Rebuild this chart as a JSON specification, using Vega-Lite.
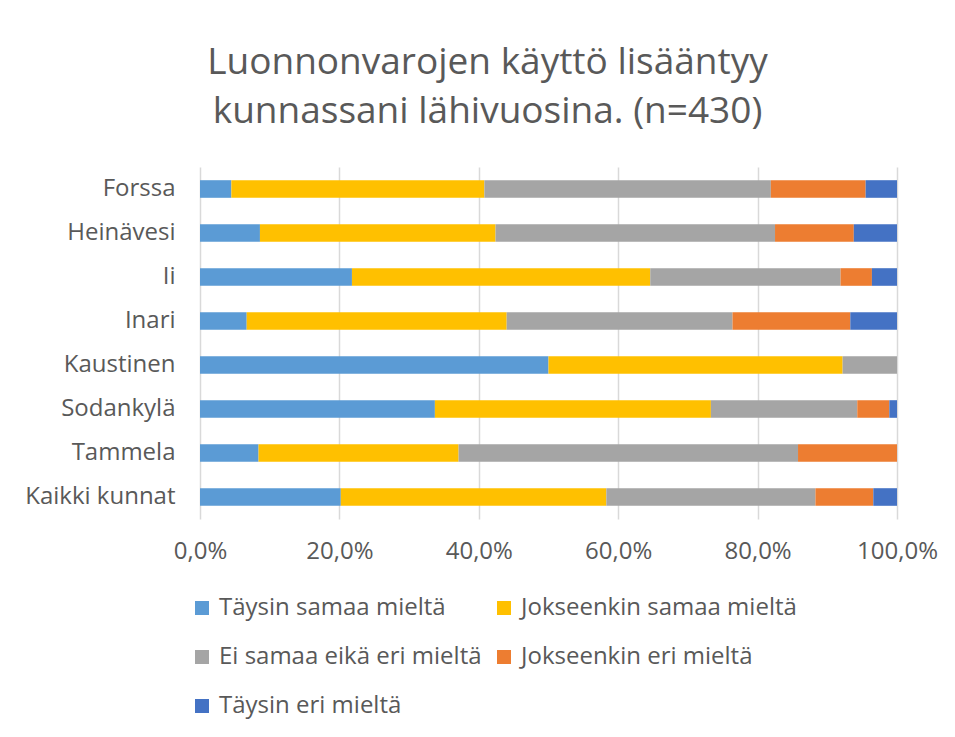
{
  "$schema": "https://vega.github.io/schema/vega-lite/v6.json",
  "width": 697,
  "height": 352,
  "autosize": "none",
  "padding": {"left": 200, "top": 167, "right": 58, "bottom": 218},
  "background": "white",
  "title": {
    "text": ["Luonnonvarojen käyttö lisääntyy", "kunnassani lähivuosina. (n=430)"],
    "font": "Open Sans",
    "fontSize": 37,
    "fontWeight": "normal",
    "color": "#595959",
    "lineHeight": 49,
    "anchor": "middle",
    "dx": -61,
    "offset": 36
  },
  "data": {
    "values": [
      {"kunta": "Forssa", "vastaus": "Täysin samaa mieltä", "o": 1, "arvo": 4.5},
      {"kunta": "Forssa", "vastaus": "Jokseenkin samaa mieltä", "o": 2, "arvo": 36.3},
      {"kunta": "Forssa", "vastaus": "Ei samaa eikä eri mieltä", "o": 3, "arvo": 41.1},
      {"kunta": "Forssa", "vastaus": "Jokseenkin eri mieltä", "o": 4, "arvo": 13.6},
      {"kunta": "Forssa", "vastaus": "Täysin eri mieltä", "o": 5, "arvo": 4.5},
      {"kunta": "Heinävesi", "vastaus": "Täysin samaa mieltä", "o": 1, "arvo": 8.6},
      {"kunta": "Heinävesi", "vastaus": "Jokseenkin samaa mieltä", "o": 2, "arvo": 33.8},
      {"kunta": "Heinävesi", "vastaus": "Ei samaa eikä eri mieltä", "o": 3, "arvo": 40.1},
      {"kunta": "Heinävesi", "vastaus": "Jokseenkin eri mieltä", "o": 4, "arvo": 11.3},
      {"kunta": "Heinävesi", "vastaus": "Täysin eri mieltä", "o": 5, "arvo": 6.2},
      {"kunta": "Ii", "vastaus": "Täysin samaa mieltä", "o": 1, "arvo": 21.8},
      {"kunta": "Ii", "vastaus": "Jokseenkin samaa mieltä", "o": 2, "arvo": 42.8},
      {"kunta": "Ii", "vastaus": "Ei samaa eikä eri mieltä", "o": 3, "arvo": 27.3},
      {"kunta": "Ii", "vastaus": "Jokseenkin eri mieltä", "o": 4, "arvo": 4.5},
      {"kunta": "Ii", "vastaus": "Täysin eri mieltä", "o": 5, "arvo": 3.6},
      {"kunta": "Inari", "vastaus": "Täysin samaa mieltä", "o": 1, "arvo": 6.7},
      {"kunta": "Inari", "vastaus": "Jokseenkin samaa mieltä", "o": 2, "arvo": 37.3},
      {"kunta": "Inari", "vastaus": "Ei samaa eikä eri mieltä", "o": 3, "arvo": 32.4},
      {"kunta": "Inari", "vastaus": "Jokseenkin eri mieltä", "o": 4, "arvo": 16.9},
      {"kunta": "Inari", "vastaus": "Täysin eri mieltä", "o": 5, "arvo": 6.7},
      {"kunta": "Kaustinen", "vastaus": "Täysin samaa mieltä", "o": 1, "arvo": 50.0},
      {"kunta": "Kaustinen", "vastaus": "Jokseenkin samaa mieltä", "o": 2, "arvo": 42.2},
      {"kunta": "Kaustinen", "vastaus": "Ei samaa eikä eri mieltä", "o": 3, "arvo": 7.8},
      {"kunta": "Sodankylä", "vastaus": "Täysin samaa mieltä", "o": 1, "arvo": 33.7},
      {"kunta": "Sodankylä", "vastaus": "Jokseenkin samaa mieltä", "o": 2, "arvo": 39.6},
      {"kunta": "Sodankylä", "vastaus": "Ei samaa eikä eri mieltä", "o": 3, "arvo": 21.0},
      {"kunta": "Sodankylä", "vastaus": "Jokseenkin eri mieltä", "o": 4, "arvo": 4.6},
      {"kunta": "Sodankylä", "vastaus": "Täysin eri mieltä", "o": 5, "arvo": 1.1},
      {"kunta": "Tammela", "vastaus": "Täysin samaa mieltä", "o": 1, "arvo": 8.4},
      {"kunta": "Tammela", "vastaus": "Jokseenkin samaa mieltä", "o": 2, "arvo": 28.7},
      {"kunta": "Tammela", "vastaus": "Ei samaa eikä eri mieltä", "o": 3, "arvo": 48.7},
      {"kunta": "Tammela", "vastaus": "Jokseenkin eri mieltä", "o": 4, "arvo": 14.2},
      {"kunta": "Kaikki kunnat", "vastaus": "Täysin samaa mieltä", "o": 1, "arvo": 20.2},
      {"kunta": "Kaikki kunnat", "vastaus": "Jokseenkin samaa mieltä", "o": 2, "arvo": 38.1},
      {"kunta": "Kaikki kunnat", "vastaus": "Ei samaa eikä eri mieltä", "o": 3, "arvo": 30.0},
      {"kunta": "Kaikki kunnat", "vastaus": "Jokseenkin eri mieltä", "o": 4, "arvo": 8.3},
      {"kunta": "Kaikki kunnat", "vastaus": "Täysin eri mieltä", "o": 5, "arvo": 3.4}
    ]
  },
  "mark": {"type": "bar"},
  "encoding": {
    "y": {
      "field": "kunta",
      "type": "nominal",
      "sort": ["Forssa", "Heinävesi", "Ii", "Inari", "Kaustinen", "Sodankylä", "Tammela", "Kaikki kunnat"],
      "scale": {"paddingInner": 0.6, "paddingOuter": 0.3},
      "axis": {
        "title": null,
        "domain": false,
        "ticks": false,
        "labelPadding": 25,
        "labelFont": "Open Sans",
        "labelFontSize": 24,
        "labelColor": "#595959"
      }
    },
    "x": {
      "field": "arvo",
      "type": "quantitative",
      "stack": "zero",
      "scale": {"domain": [0, 100]},
      "axis": {
        "title": null,
        "values": [0, 20, 40, 60, 80, 100],
        "labelExpr": "replace(format(datum.value, '.1f'), '.', ',') + '%'",
        "domain": false,
        "ticks": false,
        "grid": true,
        "gridColor": "#D9D9D9",
        "gridWidth": 1.5,
        "labelPadding": 20,
        "labelFont": "Open Sans",
        "labelFontSize": 24,
        "labelColor": "#595959",
        "labelFlush": false
      }
    },
    "color": {
      "field": "vastaus",
      "type": "nominal",
      "scale": {
        "domain": ["Täysin samaa mieltä", "Jokseenkin samaa mieltä", "Ei samaa eikä eri mieltä", "Jokseenkin eri mieltä", "Täysin eri mieltä"],
        "range": ["#5B9BD5", "#FFC000", "#A5A5A5", "#ED7D31", "#4472C4"]
      },
      "legend": {
        "title": null,
        "orient": "none",
        "direction": "horizontal",
        "legendX": -10,
        "legendY": 429,
        "columns": 2,
        "columnPadding": 10,
        "rowPadding": 25,
        "symbolType": "square",
        "symbolSize": 196,
        "symbolStrokeWidth": 0,
        "labelOffset": 5,
        "labelFont": "Open Sans",
        "labelFontSize": 24,
        "labelColor": "#595959",
        "labelLimit": 400
      }
    },
    "order": {"field": "o", "type": "quantitative"}
  },
  "config": {
    "view": {"stroke": null}
  }
}
